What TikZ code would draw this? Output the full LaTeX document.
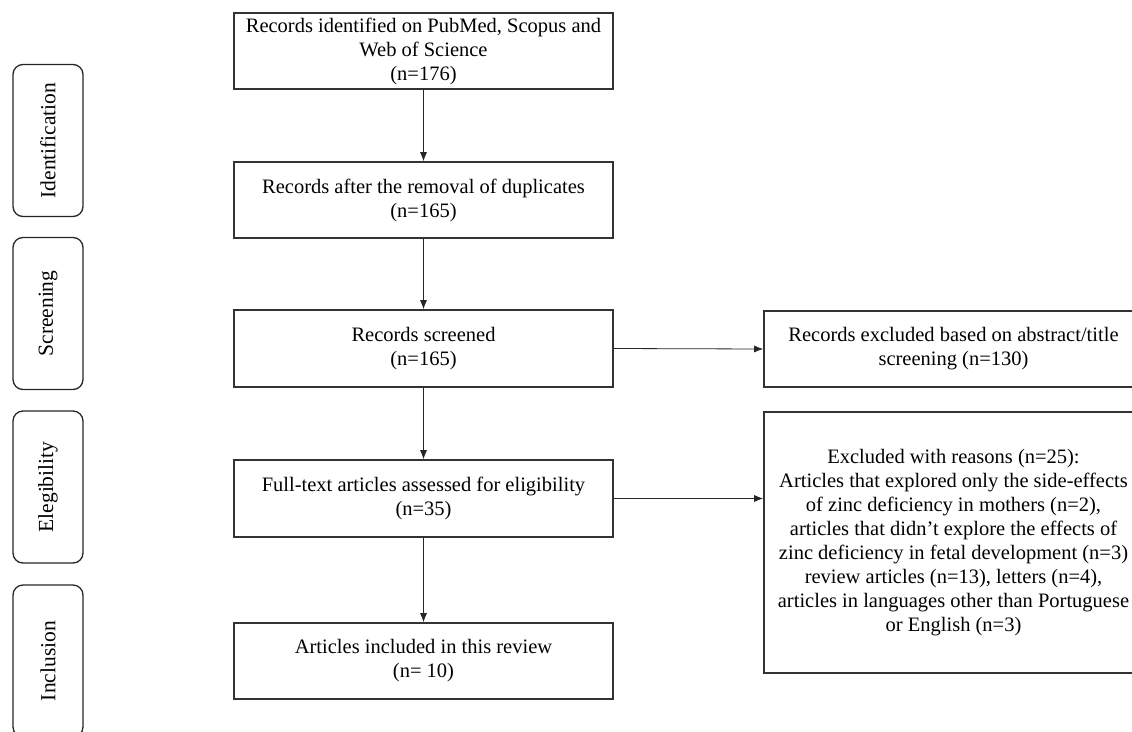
\documentclass[tikz,border=0pt]{standalone}
\usepackage{fontspec}
\setmainfont{Liberation Serif}
\usetikzlibrary{arrows.meta,calc}
\begin{document}
\begin{tikzpicture}[x=1pt,y=-1pt,
  mainbox/.style={draw=black!80, line width=1.6pt, minimum width=379pt, inner sep=0pt, align=center, font=\fontsize{20.5}{24}\selectfont},
  stagebox/.style={draw=black!85, line width=1.3pt, rounded corners=10pt, minimum width=152pt, minimum height=70pt, rotate=90, inner sep=0pt, font=\fontsize{21.5}{24}\selectfont},
  arr/.style={draw=black!85, line width=0.8pt, -{Latex[length=9pt,width=7pt]}}]
\useasboundingbox (0,0) rectangle (1132,731);
\clip (0,0) rectangle (1132,731);
% stage labels
\node[stagebox] (s1) at (48,140.5) {Identification};
\node[stagebox] (s2) at (48,313.5) {Screening};
\node[stagebox] (s3) at (48,487) {Elegibility};
\node[stagebox] (s4) at (48,661) {Inclusion};
% main column
\node[mainbox, minimum height=76pt] (b1) at (423.5,51) {Records identified on PubMed, Scopus and\\Web of Science\\(n=176)};
\node[mainbox, minimum height=76pt] (b2) at (423.5,200) {Records after the removal of duplicates\\(n=165)};
\node[mainbox, minimum height=77pt] (b3) at (423.5,348.5) {Records screened\\(n=165)};
\node[mainbox, minimum height=77pt] (b4) at (423.5,498.5) {Full-text articles assessed for eligibility\\(n=35)};
\node[mainbox, minimum height=76pt] (b5) at (423.5,661) {Articles included in this review\\(n= 10)};
% right column
\node[mainbox, minimum height=76pt] (ra) at (953.5,349) {Records excluded based on abstract/title\\screening (n=130)};
\node[mainbox, minimum height=261pt] (rb) at (953.5,542.5) {Excluded with reasons (n=25):\\Articles that explored only the side-effects\\of zinc deficiency in mothers (n=2),\\articles that didn’t explore the effects of\\zinc deficiency in fetal development (n=3)\\review articles (n=13), letters (n=4),\\articles in languages other than Portuguese\\or English (n=3)};
% connectors
\draw[arr] (b1) -- (b2);
\draw[arr] (b2) -- (b3);
\draw[arr] (b3) -- (b4);
\draw[arr] (b4) -- (b5);
\draw[arr] (b3.east) -- (ra.west);
\draw[arr] (b4.east) -- (b4.east -| rb.west);
\end{tikzpicture}
\end{document}
